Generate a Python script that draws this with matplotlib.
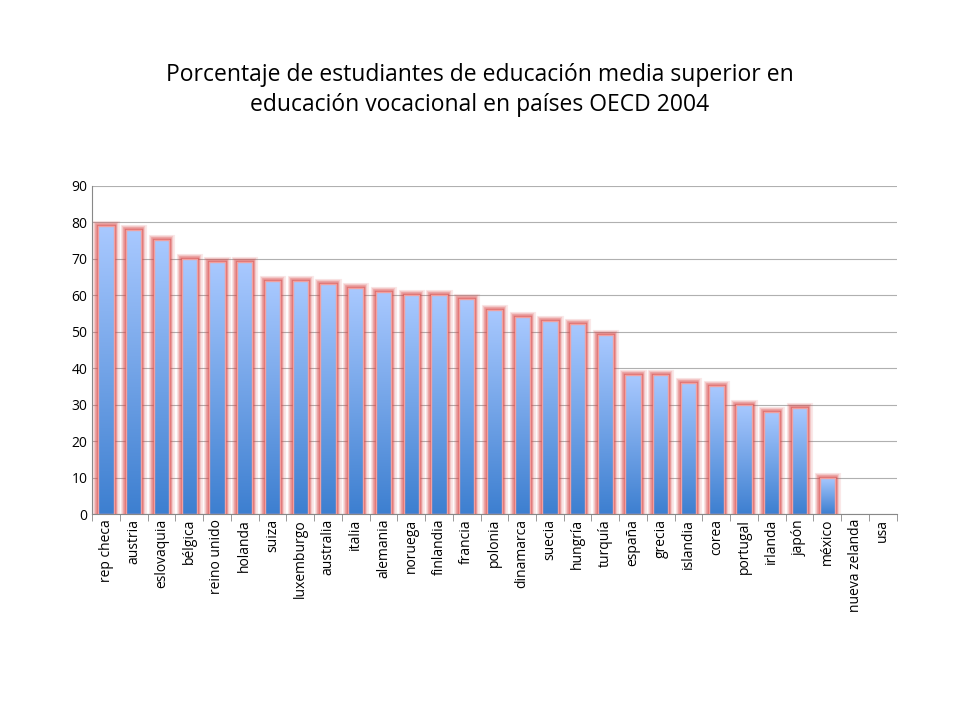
import matplotlib
matplotlib.use("Agg")
import matplotlib.pyplot as plt
import numpy as np
from matplotlib.colors import LinearSegmentedColormap

categories = ["rep checa","austria","eslovaquia","bélgica","reino unido","holanda","suiza","luxemburgo",
              "australia","italia","alemania","noruega","finlandia","francia","polonia","dinamarca",
              "suecia","hungría","turquía","españa","grecia","islandia","corea","portugal","irlanda",
              "japón","méxico","nueva zelanda","usa"]
values = [79,78,75,70,69,69,64,64,63,62,61,60,60,59,56,54,53,52,49,38,38,36,35,30,28,29,10,0,0]

plt.rcParams["font.family"] = "Open Sans"
fig = plt.figure(figsize=(9.6, 7.2), dpi=100)
ax = fig.add_axes([0.096, 0.286, 0.838, 0.456])
x = np.arange(len(categories))
w = 0.55
grad = np.linspace(0, 1, 256).reshape(-1, 1)
cmap = LinearSegmentedColormap.from_list("g", ["#3d7fd0", "#a9c9ff"])
for xi, v in zip(x, values):
    if v <= 0:
        continue
    for lw, a in [(8, 0.12), (6, 0.2), (4, 0.35), (2.5, 0.5)]:
        ax.bar(xi, v, w, color="none", edgecolor="#d84848", linewidth=lw, alpha=a, zorder=2)
    b = ax.bar(xi, v, w, color="none", edgecolor="#f0a0a0", linewidth=1, zorder=4)[0]
    im = ax.imshow(grad, cmap=cmap, aspect="auto", origin="lower",
                   extent=[xi - w/2, xi + w/2, 0, v], zorder=3)
    im.set_clip_path(b)
ax.set_xlim(-0.5, len(categories) - 0.5)
ax.set_ylim(0, 90)
ax.set_yticks(range(0, 91, 10))
ax.yaxis.grid(True, color="#b0b0b0", linewidth=0.8)
ax.set_axisbelow(True)
ax.set_xticks(x)
ax.set_xticklabels(categories, rotation=90, fontsize=10)
ax.tick_params(axis="y", labelsize=10, length=0)
ax.set_xticks(np.arange(-0.5, len(categories)), minor=True)
ax.tick_params(axis="x", which="minor", length=5, color="#888888")
ax.tick_params(axis="x", which="major", length=0)
for s in ["top", "right"]:
    ax.spines[s].set_visible(False)
ax.spines["left"].set_color("#888888")
ax.spines["bottom"].set_color("#888888")
fig.text(0.5, 0.875, "Porcentaje de estudiantes de educación media superior en\neducación vocacional en países OECD 2004",
         ha="center", va="center", fontsize=16.5, linespacing=1.35, fontweight="medium")
fig.savefig("out.png", dpi=100)
